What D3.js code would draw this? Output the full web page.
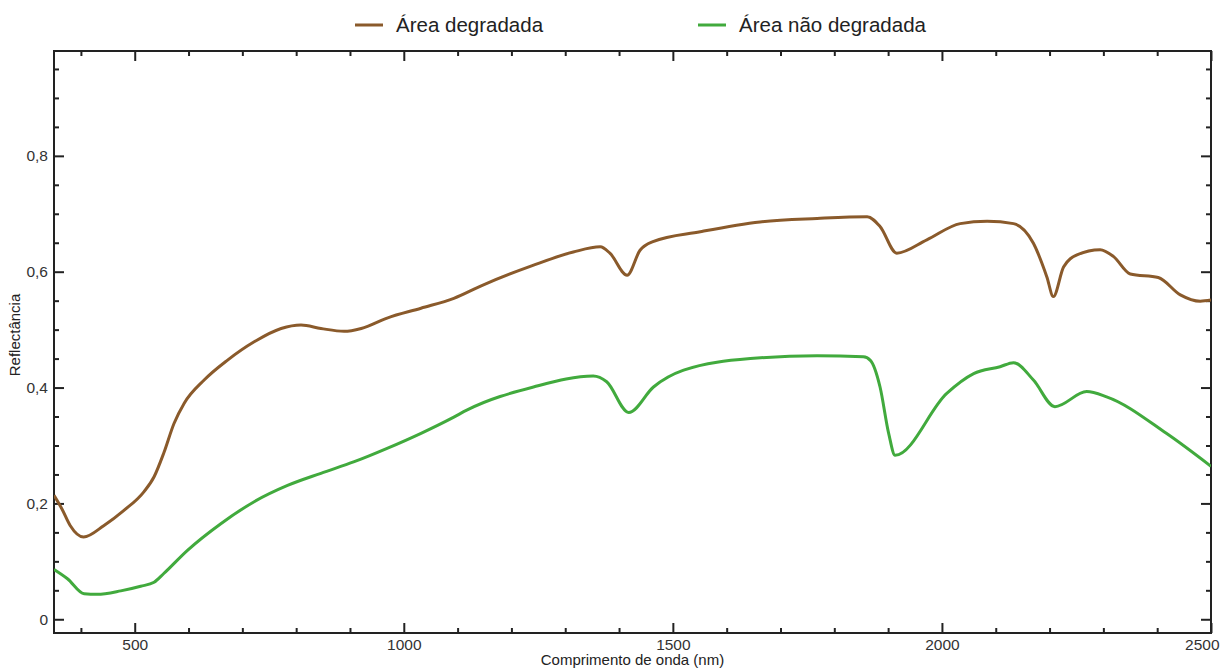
<!DOCTYPE html>
<html>
<head>
<meta charset="utf-8">
<script src="https://cdn.jsdelivr.net/npm/d3@7"></script>
<style>
  body { margin: 0; background: #fff; }
  svg { display: block; font-family: "Liberation Sans", Arial, sans-serif; }
  .axis path { display: none; }
  .axis line { stroke: #222; stroke-width: 2; }
  .axis text { fill: #333; font-size: 15.5px; }
</style>
</head>
<body>
<svg id="chart" width="1220" height="668"></svg>
<script>
// wavelength (nm) / reflectance
const degradadaNm = [350, 365, 380, 405, 443, 480, 517, 536, 554, 573, 592, 629, 672, 722, 772, 809, 846, 889, 921, 969, 1032, 1093, 1147, 1240, 1315, 1365, 1383, 1415, 1439, 1463, 1551, 1662, 1768, 1861, 1885, 1916, 1972, 2034, 2084, 2133, 2170, 2195, 2207, 2226, 2251, 2294, 2319, 2350, 2402, 2443, 2480, 2500];
const degradadaR = [0.214, 0.19, 0.162, 0.142, 0.162, 0.188, 0.22, 0.246, 0.287, 0.338, 0.373, 0.413, 0.447, 0.479, 0.502, 0.508, 0.502, 0.497, 0.502, 0.52, 0.537, 0.554, 0.577, 0.611, 0.634, 0.643, 0.632, 0.594, 0.637, 0.652, 0.669, 0.686, 0.692, 0.695, 0.678, 0.632, 0.655, 0.683, 0.687, 0.683, 0.649, 0.591, 0.557, 0.608, 0.629, 0.638, 0.626, 0.596, 0.59, 0.56, 0.549, 0.551];

const naoDegradadaNm = [350, 375, 406, 430, 474, 511, 536, 554, 598, 660, 722, 784, 846, 908, 969, 1032, 1093, 1117, 1241, 1352, 1377, 1418, 1464, 1520, 1644, 1768, 1854, 1867, 1885, 1901, 1913, 2009, 2059, 2108, 2133, 2170, 2210, 2269, 2306, 2417, 2500];
const naoDegradadaR = [0.086, 0.07, 0.044, 0.043, 0.049, 0.057, 0.064, 0.079, 0.119, 0.165, 0.203, 0.231, 0.252, 0.272, 0.295, 0.321, 0.349, 0.361, 0.401, 0.42, 0.41, 0.357, 0.401, 0.43, 0.45, 0.455, 0.453, 0.447, 0.401, 0.321, 0.283, 0.39, 0.424, 0.436, 0.443, 0.413, 0.367, 0.393, 0.384, 0.321, 0.264];

const seriesNames = ["Área degradada", "Área não degradada"];
const seriesColors = ["#8a5a2b", "#41aa3d"];

const xMajor = [500, 1000, 1500, 2000, 2500];
const xMinor = [400, 600, 700, 800, 900, 1100, 1200, 1300, 1400, 1600, 1700, 1800, 1900, 2100, 2200, 2300, 2400];
const yMajor = [0, 0.2, 0.4, 0.6, 0.8];
const yMinor = [0.05, 0.1, 0.15, 0.25, 0.3, 0.35, 0.45, 0.5, 0.55, 0.65, 0.7, 0.75, 0.85, 0.9, 0.95];

const width = 1220;
const height = 668;
const margin = { top: 51, right: 9, bottom: 35, left: 54 };

const svg = d3.select("#chart");

const x = d3.scaleLinear().domain([350, 2500]).range([margin.left, width - margin.right]);
const y = d3.scaleLinear().domain([-0.0237, 0.981]).range([height - margin.bottom, margin.top]);

const fmt = d => (d === 0 ? "0" : d3.format(".1f")(d).replace(".", ","));

// axes: major + minor ticks pointing inward on all four sides
const addAxis = (axisFn, scale, ticks, size, transform, labels) => {
  const a = axisFn(scale).tickValues(ticks).tickSize(-size).tickPadding(6);
  if (labels) a.tickFormat(labels);
  else a.tickFormat("");
  return svg.append("g").attr("class", "axis").attr("transform", transform).call(a);
};

const bottomT = `translate(0,${height - margin.bottom})`;
const topT = `translate(0,${margin.top})`;
const leftT = `translate(${margin.left},0)`;
const rightT = `translate(${width - margin.right},0)`;

const xAxisG = addAxis(d3.axisBottom, x, xMajor, 10, bottomT, d => d);
addAxis(d3.axisBottom, x, xMinor, 5, bottomT);
addAxis(d3.axisTop, x, xMajor, 10, topT);
addAxis(d3.axisTop, x, xMinor, 5, topT);
addAxis(d3.axisLeft, y, yMajor, 10, leftT, fmt);
addAxis(d3.axisLeft, y, yMinor, 5, leftT);
addAxis(d3.axisRight, y, yMajor, 10, rightT);
addAxis(d3.axisRight, y, yMinor, 5, rightT);

// last x label sits against the right edge
xAxisG.selectAll(".tick text")
  .filter(d => d === 2500)
  .attr("text-anchor", "end")
  .attr("dx", 8);

// frame
svg.append("rect")
  .attr("x", margin.left)
  .attr("y", margin.top)
  .attr("width", width - margin.left - margin.right)
  .attr("height", height - margin.top - margin.bottom)
  .attr("fill", "none")
  .attr("stroke", "#222")
  .attr("stroke-width", 2);

// curves
const line = d3.line()
  .x(d => x(d[0]))
  .y(d => y(d[1]))
  .curve(d3.curveMonotoneX);

const series = [
  d3.zip(degradadaNm, degradadaR),
  d3.zip(naoDegradadaNm, naoDegradadaR)
];

svg.append("clipPath").attr("id", "plotClip")
  .append("rect")
  .attr("x", margin.left)
  .attr("y", margin.top)
  .attr("width", width - margin.left - margin.right)
  .attr("height", height - margin.top - margin.bottom);

svg.append("g")
  .attr("clip-path", "url(#plotClip)")
  .selectAll("path")
  .data(series)
  .join("path")
  .attr("d", line)
  .attr("fill", "none")
  .attr("stroke", (d, i) => seriesColors[i])
  .attr("stroke-width", 3)
  .attr("stroke-linejoin", "round");

// axis titles
svg.append("text")
  .attr("x", (margin.left + width - margin.right) / 2)
  .attr("y", 665)
  .attr("text-anchor", "middle")
  .attr("font-size", 15)
  .attr("fill", "#222")
  .text("Comprimento de onda (nm)");

svg.append("text")
  .attr("transform", `translate(20,${335}) rotate(-90)`)
  .attr("text-anchor", "middle")
  .attr("font-size", 15)
  .attr("fill", "#222")
  .text("Reflectância");

// legend
const legendX = [355, 698];
const legend = svg.append("g")
  .selectAll("g")
  .data(seriesNames)
  .join("g")
  .attr("transform", (d, i) => `translate(${legendX[i]},25)`);

legend.append("line")
  .attr("x1", 0)
  .attr("x2", 28)
  .attr("stroke", (d, i) => seriesColors[i])
  .attr("stroke-width", 3);

legend.append("text")
  .attr("x", 41)
  .attr("y", 7)
  .attr("font-size", 20.5)
  .attr("fill", "#222")
  .text(d => d);
</script>
</body>
</html>
